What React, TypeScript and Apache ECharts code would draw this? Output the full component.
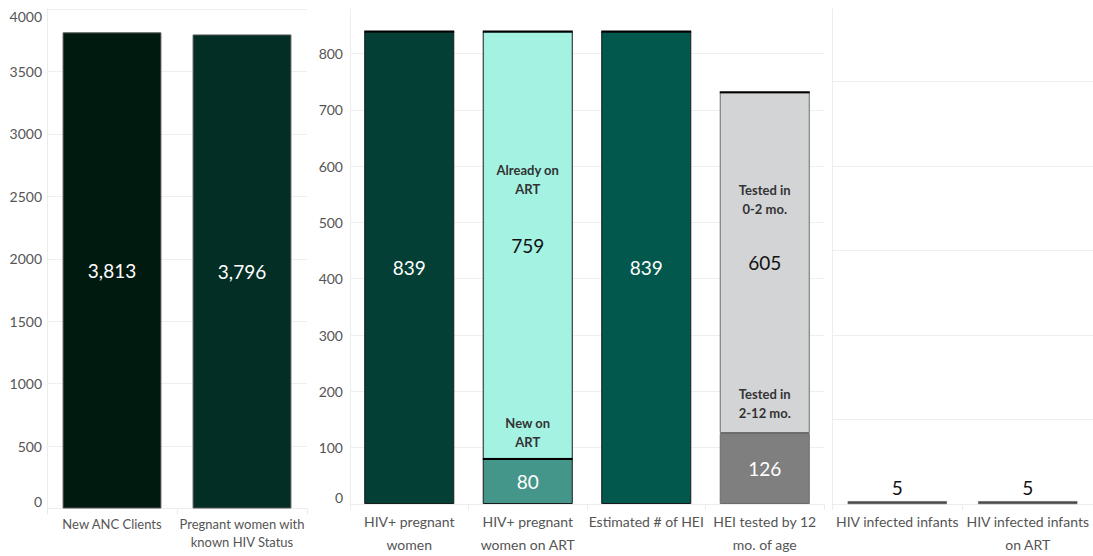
import React, { useEffect, useRef } from 'react';
import * as echarts from 'echarts';

const FONT = 'Lato, "Liberation Sans", sans-serif';

// Antenatal care
const ancCategories = ['New ANC Clients', 'Pregnant women with\nknown HIV Status'];
const ancValues = [3813, 3796];

// PMTCT cascade (stacked: lower segment + upper segment)
const pmtctCategories = [
  'HIV+ pregnant\nwomen',
  'HIV+ pregnant\nwomen on ART',
  'Estimated # of HEI',
  'HEI tested by 12\nmo. of age',
];
const pmtctLower = [839, 80, 839, 126];
const pmtctUpper: (number | null)[] = [null, 759, null, 605];
const lowerNotes = ['', 'New on\nART', '', 'Tested in\n2-12 mo.'];
const upperNotes = ['', 'Already on\nART', '', 'Tested in\n0-2 mo.'];

// Infant outcomes
const infantCategories = ['HIV infected infants', 'HIV infected infants\non ART'];
const infantValues = [5, 5];

const ancColors = ['#011a10', '#032e26'];
const lowerColors = ['#033f35', '#45968a', '#02584c', '#7f7f7f'];
const upperColors = ['', '#a3f2e2', '', '#d3d4d6'];
const upperTextColors = ['#fff', '#111', '#fff', '#111'];
const segBorder = ['#1a1a1a', '#1a1a1a', '#1a1a1a', '#6b6b6b'];
// distance (px) between the last note line and the value, per bar
const lowerGap = [0, 39, 0, 56];
const upperGap = [0, 56, 0, 54];

const GRID_TOP = 9;
const GRID_BOTTOM = 556 - 508.5;
const PMTCT_MAX = 879;
const VALUE_SIZE = 19;
const fmt = (v: number) => v.toLocaleString('en-US');

function notedLabel(note: string, value: number, gap: number, valueColor: string) {
  if (!note) {
    return {
      show: true,
      position: 'inside',
      formatter: fmt(value),
      color: valueColor,
      fontSize: VALUE_SIZE,
      fontFamily: FONT,
    };
  }
  const lines = note.split('\n').map((l) => `{n|${l}}`).join('\n');
  return {
    show: true,
    position: 'inside',
    offset: [0, -19],
    formatter: `${lines}\n{v|${fmt(value)}}`,
    rich: {
      n: { fontSize: 13, fontWeight: 'bold', color: '#333', lineHeight: 19, fontFamily: FONT },
      v: { fontSize: VALUE_SIZE, color: valueColor, lineHeight: 2 * (gap - 9.5), fontFamily: FONT },
    },
  };
}

export default function App() {
  const ref = useRef<HTMLDivElement>(null);

  useEffect(() => {
    if (!ref.current) return;
    const chart = echarts.init(ref.current, undefined, { renderer: 'svg' });

    const gridLine = { lineStyle: { color: '#efefef', width: 1 } };
    const faintAxis = { show: true, lineStyle: { color: '#ececec', width: 1 } };
    const tickLabel = {
      fontSize: 14,
      color: '#555',
      fontFamily: FONT,
      formatter: (v: number) => String(v),
      verticalAlignMinLabel: 'bottom',
      verticalAlignMaxLabel: 'top',
    };
    const catLabel = (size: number, lh: number) => ({
      fontSize: size,
      lineHeight: lh,
      color: '#555',
      fontFamily: FONT,
      margin: 6,
      interval: 0,
    });
    const catTick = { show: true, length: 6, lineStyle: { color: '#ececec' } };

    const caps: number[][] = pmtctCategories.map((_, i) => [i, pmtctLower[i] + (pmtctUpper[i] ?? 0)]);
    caps.push([1, pmtctLower[1]]);

    chart.setOption({
      animation: false,
      textStyle: { fontFamily: FONT },
      grid: [
        { left: 47, width: 260, top: GRID_TOP, bottom: GRID_BOTTOM },
        { left: 350, width: 474, top: GRID_TOP, bottom: GRID_BOTTOM },
        { left: 832, width: 268, top: GRID_TOP, bottom: GRID_BOTTOM },
      ],
      xAxis: [
        {
          gridIndex: 0, type: 'category', data: ancCategories,
          axisLine: faintAxis, axisTick: catTick, axisLabel: catLabel(13, 18),
        },
        {
          gridIndex: 1, type: 'category', data: pmtctCategories,
          axisLine: faintAxis, axisTick: catTick, axisLabel: catLabel(14, 23),
        },
        {
          gridIndex: 2, type: 'category', data: infantCategories,
          axisLine: faintAxis, axisTick: catTick, axisLabel: catLabel(14, 23),
        },
      ],
      yAxis: [
        {
          gridIndex: 0, type: 'value', min: 0, max: 4000, interval: 500,
          axisLine: faintAxis, axisTick: { show: false },
          axisLabel: { ...tickLabel, margin: 5 },
          splitLine: gridLine,
        },
        {
          gridIndex: 1, type: 'value', min: 0, max: PMTCT_MAX, interval: 100,
          axisLine: faintAxis, axisTick: { show: false },
          axisLabel: { ...tickLabel, margin: 7, showMaxLabel: false },
          splitLine: { ...gridLine, showMaxLine: false },
        },
        {
          gridIndex: 2, type: 'value', min: 0, max: PMTCT_MAX, interval: 150,
          axisLine: faintAxis, axisTick: { show: false },
          axisLabel: { show: false },
          splitLine: { ...gridLine, showMaxLine: false },
        },
      ],
      series: [
        {
          type: 'bar', xAxisIndex: 0, yAxisIndex: 0, barWidth: '76%',
          data: ancValues.map((v, i) => ({
            value: v,
            itemStyle: { color: ancColors[i], borderColor: '#555', borderWidth: 1 },
          })),
          label: {
            show: true, position: 'inside', color: '#fff', fontSize: VALUE_SIZE,
            fontFamily: FONT, formatter: (p: any) => fmt(p.value),
          },
        },
        {
          type: 'bar', xAxisIndex: 1, yAxisIndex: 1, barWidth: '76%', stack: 'pmtct',
          data: pmtctLower.map((v, i) => ({
            value: v,
            itemStyle: { color: lowerColors[i], borderColor: segBorder[i], borderWidth: 1 },
            label: notedLabel(lowerNotes[i], v, lowerGap[i], '#fff'),
          })),
        },
        {
          type: 'bar', xAxisIndex: 1, yAxisIndex: 1, barWidth: '76%', stack: 'pmtct',
          data: pmtctUpper.map((v, i) =>
            v == null
              ? '-'
              : {
                  value: v,
                  itemStyle: { color: upperColors[i], borderColor: segBorder[i], borderWidth: 1 },
                  label: notedLabel(upperNotes[i], v, upperGap[i], upperTextColors[i]),
                },
          ),
        },
        {
          type: 'custom', xAxisIndex: 1, yAxisIndex: 1, silent: true, z: 5,
          data: caps,
          renderItem: (_params: any, api: any) => {
            const c = api.coord([api.value(0), api.value(1)]);
            const w = api.size([1, 0])[0] * 0.76;
            return {
              type: 'line',
              shape: { x1: c[0] - w / 2, y1: c[1], x2: c[0] + w / 2, y2: c[1] },
              style: { stroke: '#000', lineWidth: 2 },
            };
          },
        },
        {
          type: 'bar', xAxisIndex: 2, yAxisIndex: 2, barWidth: '76%',
          data: infantValues,
          itemStyle: { color: '#4a4a4a', borderColor: '#4a4a4a', borderWidth: 0.5 },
          label: {
            show: true, position: 'top', distance: 4, color: '#111', fontSize: VALUE_SIZE,
            fontFamily: FONT,
          },
        },
      ],
    });

    return () => chart.dispose();
  }, []);

  return (
    <div
      ref={ref}
      style={{ position: 'absolute', left: 0, top: 0, width: 1093, height: 556, background: '#fff' }}
    />
  );
}
